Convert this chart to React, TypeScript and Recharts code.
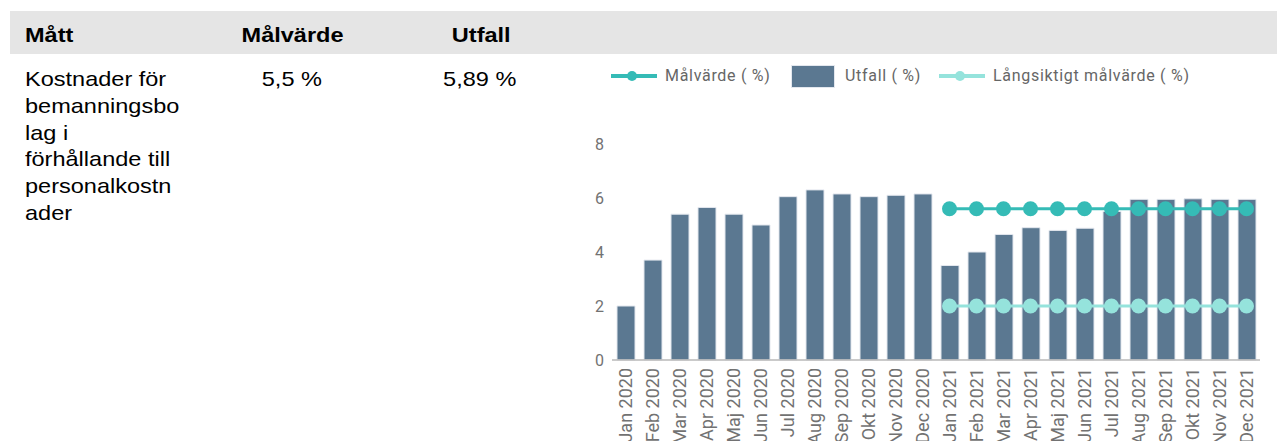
import React from 'react';
import { ComposedChart, Bar, Line, XAxis, YAxis } from 'recharts';

// Categories (x axis)
const MONTHS = [
  'Jan 2020', 'Feb 2020', 'Mar 2020', 'Apr 2020', 'Maj 2020', 'Jun 2020',
  'Jul 2020', 'Aug 2020', 'Sep 2020', 'Okt 2020', 'Nov 2020', 'Dec 2020',
  'Jan 2021', 'Feb 2021', 'Mar 2021', 'Apr 2021', 'Maj 2021', 'Jun 2021',
  'Jul 2021', 'Aug 2021', 'Sep 2021', 'Okt 2021', 'Nov 2021', 'Dec 2021',
];

// Utfall (%) per month
const UTFALL = [
  2.0, 3.7, 5.4, 5.65, 5.4, 5.0, 6.05, 6.3, 6.15, 6.05, 6.1, 6.15,
  3.5, 4.0, 4.65, 4.9, 4.8, 4.88, 5.5, 5.95, 5.95, 5.97, 5.95, 5.95,
];

// Målvärde (%) — only set for 2021
const MALVARDE = [
  null, null, null, null, null, null, null, null, null, null, null, null,
  5.6, 5.6, 5.6, 5.6, 5.6, 5.6, 5.6, 5.6, 5.6, 5.6, 5.6, 5.6,
];

// Långsiktigt målvärde (%) — only set for 2021
const LANGSIKTIGT = [
  null, null, null, null, null, null, null, null, null, null, null, null,
  2.0, 2.0, 2.0, 2.0, 2.0, 2.0, 2.0, 2.0, 2.0, 2.0, 2.0, 2.0,
];

const Y_TICKS = [0, 2, 4, 6, 8];

const COLORS = {
  bar: '#5b7891',
  barStroke: '#e3e7ee',
  target: '#35bbb6',
  longTarget: '#95e3dc',
  axis: '#b8b8b8',
  tickText: '#727272',
  legendText: '#666666',
};

const chartData = MONTHS.map((month, i) => ({
  month,
  utfall: UTFALL[i],
  malvarde: MALVARDE[i],
  langsiktigt: LANGSIKTIGT[i],
}));

const TABLE_FONT = '"Liberation Sans", Arial, sans-serif';
const CHART_FONT = 'Roboto, "Noto Sans", sans-serif';

// rotated month label, centered on the band
function MonthTick({ x, y, payload }: any) {
  return (
    <text
      x={x}
      y={y}
      transform={`rotate(-90, ${x}, ${y})`}
      textAnchor="end"
      dy="0.36em"
      fill={COLORS.tickText}
      fontSize={18}
      fontFamily={CHART_FONT}
    >
      {payload.value}
    </text>
  );
}

function LineIcon({ left, color }: { left: number; color: string }) {
  return (
    <svg style={{ position: 'absolute', left, top: 60 }} width={46} height={16}>
      <line x1={0} y1={8} x2={46} y2={8} stroke={color} strokeWidth={4} />
      <circle cx={21} cy={8} r={5} fill={color} />
    </svg>
  );
}

// table text looks horizontally widened in the original
function Wide({ children, origin = 'left' }: { children: React.ReactNode; origin?: string }) {
  return (
    <span style={{ display: 'inline-block', transform: 'scaleX(1.12)', transformOrigin: origin }}>
      {children}
    </span>
  );
}

const legendText: React.CSSProperties = {
  position: 'absolute',
  top: 56,
  fontFamily: CHART_FONT,
  fontSize: 16,
  lineHeight: '24px',
  letterSpacing: 0.7,
  color: COLORS.legendText,
  whiteSpace: 'nowrap',
};

export default function App() {
  const header: React.CSSProperties = {
    position: 'absolute',
    top: 15,
    fontFamily: TABLE_FONT,
    fontWeight: 'bold',
    fontSize: 21,
    lineHeight: '24px',
    color: '#000',
  };
  const cell: React.CSSProperties = {
    position: 'absolute',
    top: 58,
    fontFamily: TABLE_FONT,
    fontSize: 21,
    lineHeight: '26.8px',
    color: '#000',
  };

  return (
    <div style={{ position: 'relative', width: 1277, height: 433, overflow: 'hidden' }}>
      {/* table header band */}
      <div style={{ position: 'absolute', left: 2, top: 3, width: 1275, height: 43, background: '#e5e5e5' }} />
      <div style={{ ...header, left: 17 }}><Wide>Mått</Wide></div>
      <div style={{ ...header, left: 185, width: 200, textAlign: 'center' }}><Wide origin="center">Målvärde</Wide></div>
      <div style={{ ...header, left: 373, width: 200, textAlign: 'center' }}><Wide origin="center">Utfall</Wide></div>

      {/* table row */}
      <div style={{ ...cell, left: 17 }}>
        <Wide>
          Kostnader för<br />bemanningsbo<br />lag i<br />förhållande till<br />personalkostn<br />ader
        </Wide>
      </div>
      <div style={{ ...cell, left: 184, width: 200, textAlign: 'center' }}><Wide origin="center">5,5 %</Wide></div>
      <div style={{ ...cell, left: 372, width: 200, textAlign: 'center' }}><Wide origin="center">5,89 %</Wide></div>

      {/* legend */}
      <LineIcon left={603} color={COLORS.target} />
      <div style={{ ...legendText, left: 657 }}>Målvärde ( %)</div>
      <div
        style={{
          position: 'absolute', left: 783, top: 57, width: 42, height: 21,
          background: COLORS.bar, border: `1px solid ${COLORS.barStroke}`,
        }}
      />
      <div style={{ ...legendText, left: 837 }}>Utfall ( %)</div>
      <LineIcon left={931} color={COLORS.longTarget} />
      <div style={{ ...legendText, left: 985 }}>Långsiktigt målvärde ( %)</div>

      {/* chart */}
      <div style={{ position: 'absolute', left: 544, top: 112 }}>
        <ComposedChart
          width={733}
          height={330}
          data={chartData}
          margin={{ top: 24, right: 25, bottom: 0, left: 0 }}
          barCategoryGap={0}
        >
          <XAxis
            dataKey="month"
            interval={0}
            height={90}
            tickLine={false}
            tickSize={6}
            tickMargin={2}
            axisLine={{ stroke: COLORS.axis, strokeWidth: 1.5 }}
            tick={<MonthTick />}
          />
          <YAxis
            width={60}
            domain={[0, 8]}
            ticks={Y_TICKS}
            axisLine={false}
            tickLine={false}
            tick={{ fill: COLORS.tickText, fontSize: 16, fontFamily: CHART_FONT }}
          />
          <Bar
            dataKey="utfall"
            barSize={18}
            fill={COLORS.bar}
            stroke={COLORS.barStroke}
            strokeWidth={1}
            isAnimationActive={false}
          />
          <Line
            dataKey="malvarde"
            stroke={COLORS.target}
            strokeWidth={3}
            dot={{ r: 7.5, fill: COLORS.target, stroke: 'none' }}
            activeDot={false}
            isAnimationActive={false}
          />
          <Line
            dataKey="langsiktigt"
            stroke={COLORS.longTarget}
            strokeWidth={3}
            dot={{ r: 7.5, fill: COLORS.longTarget, stroke: 'none' }}
            activeDot={false}
            isAnimationActive={false}
          />
        </ComposedChart>
      </div>
    </div>
  );
}
